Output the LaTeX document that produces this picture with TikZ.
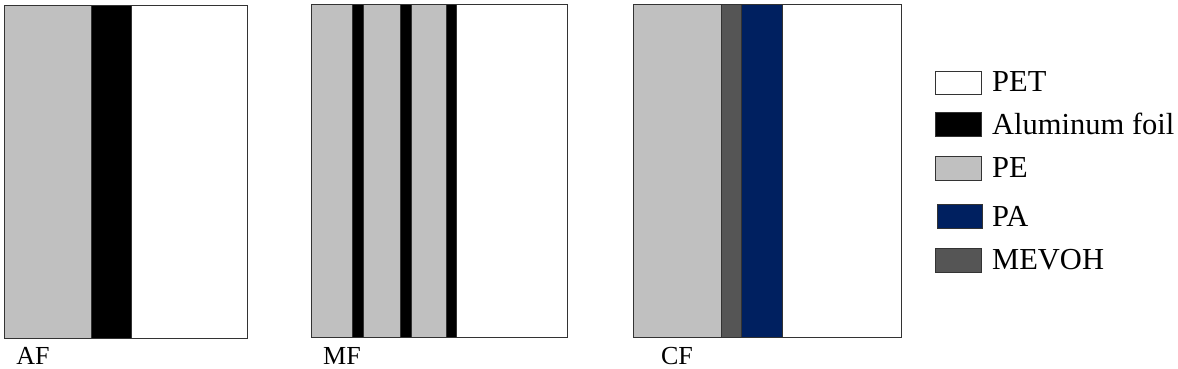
\documentclass[tikz,border=0pt]{standalone}
\usepackage{fontspec}
\setmainfont{Liberation Serif}
\usepackage{xcolor}
\usepackage{tikz}

\definecolor{pegray}{RGB}{192,192,192}
\definecolor{panavy}{RGB}{0,32,96}
\definecolor{evohgray}{RGB}{85,85,85}

\begin{document}
\begin{tikzpicture}[x=1pt, y=-1pt,
    layer/.style={draw=black!80, line width=1pt},
    filmlabel/.style={font=\fontsize{26}{30}\selectfont, inner sep=0pt},
    keylabel/.style={font=\fontsize{30.5}{36}\selectfont, anchor=west, inner sep=0pt}]
    \useasboundingbox (0,0) rectangle (1178,368);
    % AF
    \draw[layer, fill=pegray] (4,5) rectangle (91,338);
    \draw[layer, fill=black] (91,5) rectangle (131,338);
    \draw[layer, fill=white] (131,5) rectangle (247,338);
    \node[filmlabel] (af) at (33,356) {AF};
    % MF
    \draw[layer, fill=pegray] (311,4) rectangle (352,337);
    \draw[layer, fill=black] (352,4) rectangle (363,337);
    \draw[layer, fill=pegray] (363,4) rectangle (400,337);
    \draw[layer, fill=black] (400,4) rectangle (411,337);
    \draw[layer, fill=pegray] (411,4) rectangle (446,337);
    \draw[layer, fill=black] (446,4) rectangle (456,337);
    \draw[layer, fill=white] (456,4) rectangle (567,337);
    \node[filmlabel] (mf) at (342,356) {MF};
    % CF
    \draw[layer, fill=pegray] (633,4) rectangle (721,337);
    \draw[layer, fill=evohgray] (721,4) rectangle (741,337);
    \draw[layer, fill=panavy] (741,4) rectangle (782,337);
    \draw[layer, fill=white] (782,4) rectangle (901,337);
    \node[filmlabel] (cf) at (677,356) {CF};
    % legend
    \draw[layer, fill=white] (935,71) rectangle (981,94);
    \node[keylabel] (pet) at (992,82) {PET};
    \draw[layer, fill=black] (935,112) rectangle (981,136);
    \node[keylabel] (alfoil) at (992,124) {Aluminum foil};
    \draw[layer, fill=pegray] (935,156) rectangle (981,180);
    \node[keylabel] (pe) at (992,168) {PE};
    \draw[layer, fill=panavy] (937,204) rectangle (982,228);
    \node[keylabel] (pa) at (992,216) {PA};
    \draw[layer, fill=evohgray] (935,248) rectangle (981,272);
    \node[keylabel] (mevoh) at (992,260) {MEVOH};
\end{tikzpicture}
\end{document}
